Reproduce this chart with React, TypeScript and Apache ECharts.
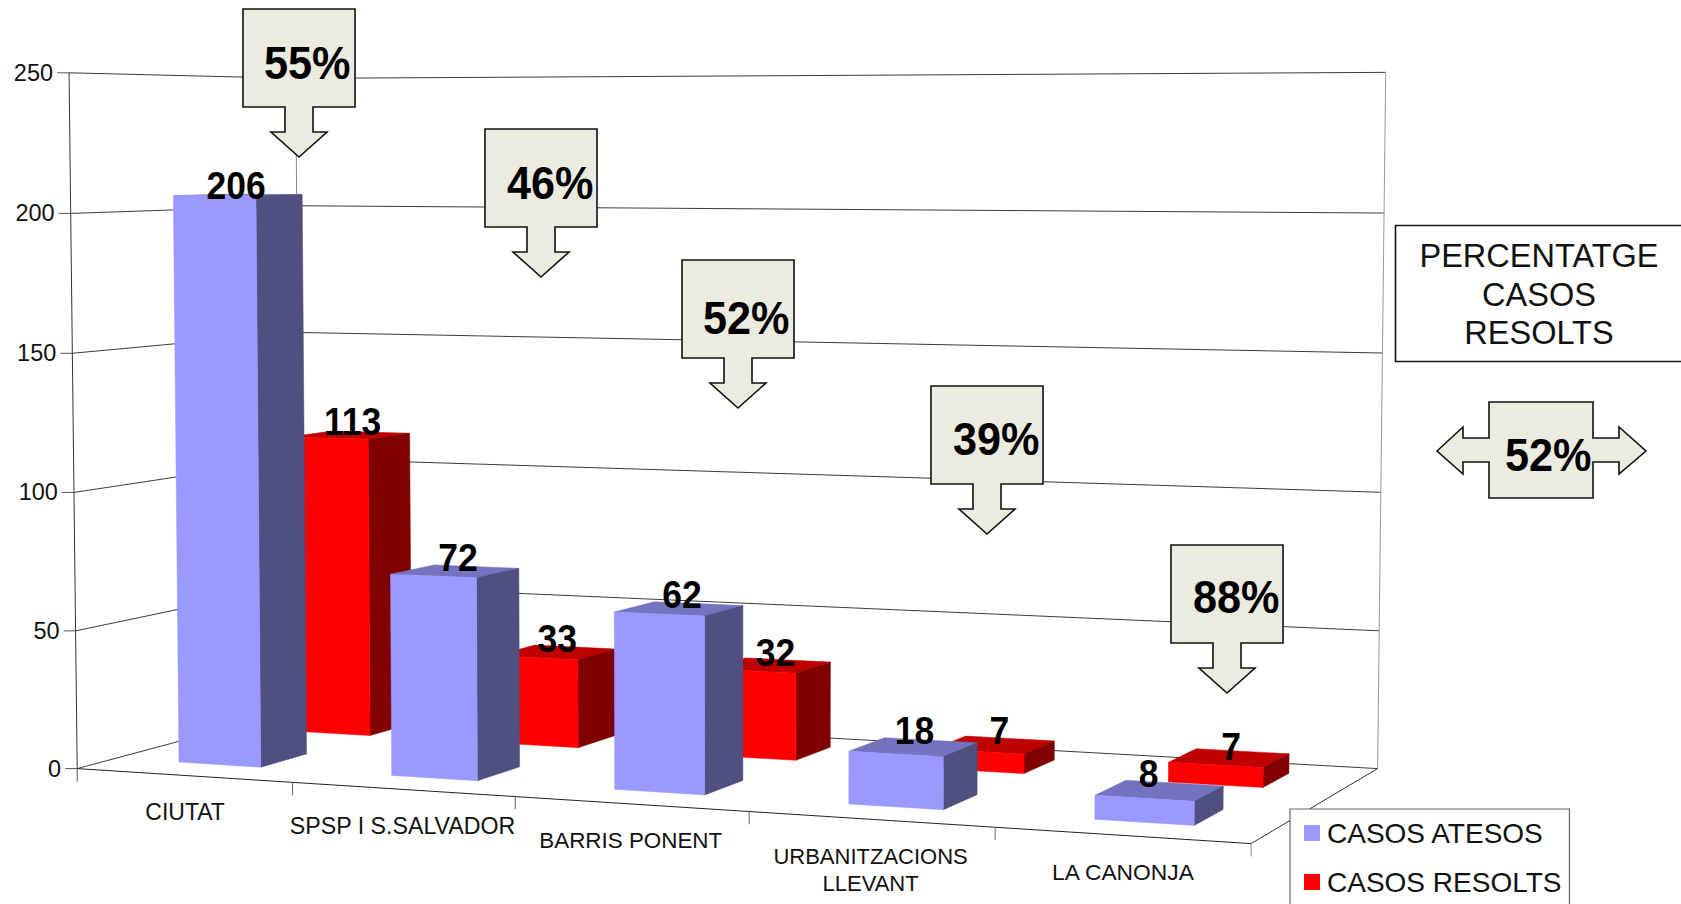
import React, { useEffect, useRef } from "react";
import * as echarts from "echarts";

const categories = ["CIUTAT", "SPSP I S.SALVADOR", "BARRIS PONENT", "URBANITZACIONS\nLLEVANT", "LA CANONJA"];
const casosAtesos = [206, 72, 62, 18, 8];
const casosResolts = [113, 33, 32, 7, 7];
const valueTicks = [0, 50, 100, 150, 200, 250];
const percentLabels = ["55%", "46%", "52%", "39%", "88%"];
const totalPercent = "52%";
const nameAtesos = "CASOS ATESOS";
const nameResolts = "CASOS RESOLTS";
const boxLines = "PERCENTATGE\nCASOS\nRESOLTS";

const FONT = '"Liberation Sans", Arial, sans-serif';

// hidden grid that carries the scales; its pixels are projected onto the 3D box
const GRID = { left: 100, top: 100, width: 1000, height: 500 };

// floor corners of the perspective box
const F0 = [77.2, 768.6];
const F1 = [1251.1, 843.6];
const B1 = [1377.6, 768.6];
const B0 = [301, 708.6];
const WALL_HEIGHT = 695.8;

function makeHomography() {
  const dx1 = F1[0] - B1[0], dx2 = B0[0] - B1[0], sx = F0[0] - F1[0] + B1[0] - B0[0];
  const dy1 = F1[1] - B1[1], dy2 = B0[1] - B1[1], sy = F0[1] - F1[1] + B1[1] - B0[1];
  const den = dx1 * dy2 - dx2 * dy1;
  const g = (sx * dy2 - dx2 * sy) / den;
  const h = (dx1 * sy - sx * dy1) / den;
  return {
    g, h,
    a: F1[0] - F0[0] + g * F1[0], b: B0[0] - F0[0] + h * B0[0], c: F0[0],
    d: F1[1] - F0[1] + g * F1[1], e: B0[1] - F0[1] + h * B0[1], f: F0[1],
  };
}
const H = makeHomography();

function project(u: number, d: number, w: number): number[] {
  const den = H.g * u + H.h * d + 1;
  const fx = (H.a * u + H.b * d + H.c) / den;
  const fy = (H.d * u + H.e * d + H.f) / den;
  const height = (WALL_HEIGHT / den) * (1 - 0.012 * u * d) * (1 - 0.013 * (1 - w)) * w;
  return [fx + (fx - 729) * 0.0125 * w, fy - height];
}

const toU = (px: number) => (px - GRID.left) / GRID.width;
const toW = (py: number) => (GRID.top + GRID.height - py) / GRID.height;

const DEPTH_FRONT = [0.16, 0.365];
const DEPTH_BACK = [0.665, 0.87];
const BAR_RATIO = 0.39;

// fine placement of the value labels over each bar, in pixels [dx, dy]
const nudgeFront = [[-2, 4], [3, 0], [3, 0], [1, -3], [-11, -3]];
const nudgeBack = [[3, 0], [1, 0], [5, 1], [5, -1], [2, 2]];
const categoryFontSizes = [23, 23.2, 22.4, 22, 22.8];

const poly = (points: number[][], fill: string) => ({
  type: "polygon",
  shape: { points },
  style: { fill, stroke: fill, lineWidth: 0.5 },
  silent: true,
});
const seg = (p: number[], q: number[], stroke: string, lineWidth = 1) => ({
  type: "line",
  shape: { x1: p[0], y1: p[1], x2: q[0], y2: q[1] },
  style: { stroke, lineWidth },
  silent: true,
});

function barRender(depth: number[], colors: { front: string; side: string; top: string }) {
  return (_p: any, api: any) => {
    const c = api.coord([api.value(0), api.value(1)]);
    const hw = (BAR_RATIO * api.size([1, 0])[0]) / GRID.width / 2;
    const uc = toU(c[0]);
    const w = toW(c[1]);
    const [d0, d1] = depth;
    const ul = uc - hw, ur = uc + hw;
    return {
      type: "group",
      children: [
        poly([project(ul, d0, w), project(ur, d0, w), project(ur, d1, w), project(ul, d1, w)], colors.top),
        poly([project(ur, d0, 0), project(ur, d1, 0), project(ur, d1, w), project(ur, d0, w)], colors.side),
        poly([project(ul, d0, 0), project(ur, d0, 0), project(ur, d0, w), project(ul, d0, w)], colors.front),
      ],
    };
  };
}

function labelRender(depth: number[], nudge: number[][]) {
  return (_p: any, api: any) => {
    const i = api.value(0);
    const c = api.coord([i, api.value(1)]);
    const p = project(toU(c[0]), (depth[0] + depth[1]) / 2, toW(c[1]));
    return {
      type: "text",
      silent: true,
      x: p[0] + nudge[i][0],
      y: p[1] - 14 + nudge[i][1],
      scaleX: 0.91,
      style: {
        text: String(api.value(1)),
        x: 0,
        y: 0,
        fill: "#000",
        font: `bold 39px ${FONT}`,
        align: "center",
        verticalAlign: "middle",
      },
    };
  };
}

function wallRender(_p: any, api: any) {
  const tick = api.value(1);
  const w = toW(api.coord([0, tick])[1]);
  const lineCol = "#3c3c3c";
  const a = project(0, 0, w), b = project(0, 1, w), c = project(1, 1, w);
  const children: any[] = [
    seg(a, b, lineCol),
    seg(b, c, lineCol),
    seg([a[0] - 12, a[1]], a, "#555"),
    {
      type: "text",
      silent: true,
      style: {
        text: String(tick),
        x: a[0] - 16,
        y: a[1],
        fill: "#111",
        font: `23.5px ${FONT}`,
        align: "right",
        verticalAlign: "middle",
      },
    },
  ];
  if (tick === 0) {
    const f = project(1, 0, 0);
    children.push(seg(a, f, "#222"), seg(f, project(1, 1, 0), "#333"), seg(a, [a[0], a[1] + 13], "#555"));
    children.push(seg(f, [f[0], f[1] + 13], "#888"));
  }
  if (tick === 250) {
    children.push(
      seg(project(0, 0, 0), project(0, 0, 1), "#333"),
      seg(project(0, 1, 0), project(0, 1, 1), "#888"),
      seg(project(1, 1, 0), project(1, 1, 1), "#999")
    );
  }
  return { type: "group", children };
}

function categoryRender(_p: any, api: any) {
  const i = api.value(0);
  const c = api.coord([i, 0]);
  const band = api.size([1, 0])[0] / GRID.width;
  const uc = toU(c[0]);
  const p = project(uc, 0, 0);
  const t = project(uc + band / 2, 0, 0);
  const lines = categories[i].split("\n");
  const children: any[] = lines.map((line, k) => ({
    type: "text",
    silent: true,
    style: {
      text: line,
      x: p[0] + 3,
      y: p[1] + 37 + k * 27,
      fill: "#111",
      font: `${categoryFontSizes[i]}px ${FONT}`,
      align: "center",
      verticalAlign: "middle",
    },
  }));
  if (i < categories.length - 1) children.push(seg([t[0] + 3, t[1]], [t[0] + 3, t[1] + 13], "#666"));
  return { type: "group", children };
}

// callout positions: box left, box top, text left, text centre y
const calloutPos = [
  [243, 9, 264, 63],
  [485, 129, 507, 183],
  [682, 260, 703, 318],
  [931, 386, 953, 439],
  [1171, 545, 1193, 597],
];
const CALLOUT_FILL = "#ECEBE0";

function boldText(text: string, x: number, y: number) {
  return {
    type: "text",
    z: 101,
    silent: true,
    x,
    y,
    scaleX: 0.92,
    style: { text, x: 0, y: 0, fill: "#000", font: `bold 47px ${FONT}`, align: "left", verticalAlign: "middle" },
  };
}

function downCallout(pos: number[], text: string) {
  const [x, y, tx, ty] = pos;
  const bw = 112, bh = 98;
  const cx = x + bw / 2;
  return [
    {
      type: "polygon",
      z: 100,
      silent: true,
      shape: {
        points: [
          [x, y], [x + bw, y], [x + bw, y + bh], [cx + 14, y + bh], [cx + 14, y + bh + 25],
          [cx + 28, y + bh + 25], [cx, y + bh + 50], [cx - 28, y + bh + 25], [cx - 14, y + bh + 25],
          [cx - 14, y + bh], [x, y + bh],
        ],
      },
      style: { fill: CALLOUT_FILL, stroke: "#111", lineWidth: 1.6 },
    },
    boldText(text, tx, ty),
  ];
}

function buildGraphics() {
  const elems: any[] = [];
  percentLabels.forEach((t, i) => elems.push(...downCallout(calloutPos[i], t)));
  elems.push({
    type: "polygon",
    z: 100,
    silent: true,
    shape: {
      points: [
        [1437, 451], [1463, 427], [1463, 438], [1489, 438], [1489, 402], [1593, 402], [1593, 438],
        [1619, 438], [1619, 427], [1646, 451], [1619, 474], [1619, 462], [1593, 462], [1593, 498],
        [1489, 498], [1489, 462], [1463, 462], [1463, 474],
      ],
    },
    style: { fill: CALLOUT_FILL, stroke: "#111", lineWidth: 1.6 },
  });
  elems.push(boldText(totalPercent, 1505, 455));
  elems.push({
    type: "rect",
    z: 100,
    silent: true,
    shape: { x: 1395.5, y: 225.5, width: 300, height: 136 },
    style: { fill: "#fff", stroke: "#111", lineWidth: 1.6 },
  });
  boxLines.split("\n").forEach((line, k) =>
    elems.push({
      type: "text",
      z: 101,
      silent: true,
      style: {
        text: line,
        x: 1539,
        y: 256 + k * 38.5,
        fill: "#111",
        font: `32.5px ${FONT}`,
        align: "center",
        verticalAlign: "middle",
      },
    })
  );
  return elems;
}

const blueColors = { front: "#9999FF", side: "#4F4F80", top: "#7373BF" };
const redColors = { front: "#FF0000", side: "#800000", top: "#BF0000" };

export default function App() {
  const ref = useRef<HTMLDivElement>(null);
  useEffect(() => {
    const chart = echarts.init(ref.current!, null, { renderer: "svg" });
    const toRows = (vals: number[]) => vals.map((v, i) => [i, v]);
    chart.setOption({
      animation: false,
      backgroundColor: "#fff",
      tooltip: { show: false },
      grid: { ...GRID },
      xAxis: { type: "category", data: categories, show: false },
      yAxis: { type: "value", min: 0, max: 250, interval: 50, show: false },
      legend: {
        data: [nameAtesos, nameResolts],
        orient: "vertical",
        left: 1290,
        top: 809,
        height: 130,
        padding: [10, 8, 20, 14],
        itemGap: 21,
        itemWidth: 16,
        itemHeight: 16,
        icon: "rect",
        backgroundColor: "#fff",
        borderColor: "#666",
        borderWidth: 1.2,
        borderRadius: 0,
        selectedMode: false,
        z: 50,
        textStyle: { fontFamily: FONT, fontSize: 28, color: "#111", padding: [0, 0, 6, 2] },
      },
      graphic: { elements: buildGraphics() },
      series: [
        {
          type: "custom",
          z: 1,
          silent: true,
          data: valueTicks.map((t) => [0, t]),
          encode: { x: 0, y: 1 },
          renderItem: wallRender,
        },
        {
          type: "custom",
          z: 1,
          silent: true,
          data: categories.map((_, i) => [i, 0]),
          encode: { x: 0, y: 1 },
          renderItem: categoryRender,
        },
        {
          type: "custom",
          name: nameResolts,
          z: 2,
          silent: true,
          itemStyle: { color: redColors.front },
          data: toRows(casosResolts),
          encode: { x: 0, y: 1 },
          renderItem: barRender(DEPTH_BACK, redColors),
        },
        {
          type: "custom",
          name: nameAtesos,
          z: 3,
          silent: true,
          itemStyle: { color: blueColors.front },
          data: toRows(casosAtesos),
          encode: { x: 0, y: 1 },
          renderItem: barRender(DEPTH_FRONT, blueColors),
        },
        {
          type: "custom",
          z: 5,
          silent: true,
          data: toRows(casosResolts),
          encode: { x: 0, y: 1 },
          renderItem: labelRender(DEPTH_BACK, nudgeBack),
        },
        {
          type: "custom",
          z: 5,
          silent: true,
          data: toRows(casosAtesos),
          encode: { x: 0, y: 1 },
          renderItem: labelRender(DEPTH_FRONT, nudgeFront),
        },
      ],
    });
    return () => chart.dispose();
  }, []);
  return <div ref={ref} style={{ position: "absolute", left: 0, top: 0, width: 1681, height: 904 }} />;
}
